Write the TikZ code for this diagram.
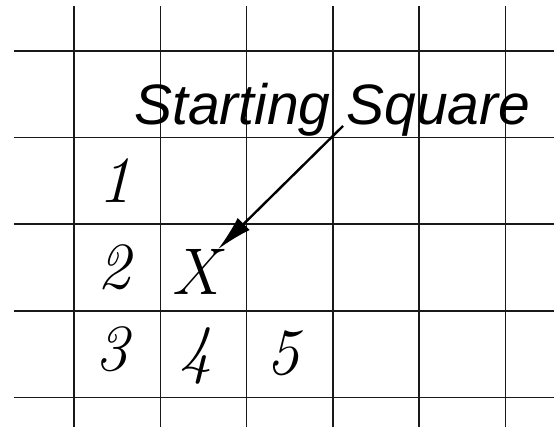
\documentclass[tikz,border=0pt]{standalone}
\usepackage{fontspec}
\setsansfont{Liberation Sans}
\usetikzlibrary{arrows.meta}
\begin{document}
\begin{tikzpicture}[x=1pt, y=1pt,
    gridline/.style={line width=1.6pt, black!90},
    digit/.style={font=\fontsize{66}{66}\selectfont\itshape, inner sep=0pt},
    pointer/.style={line width=2.4pt, -{Latex[length=36pt,width=17pt]}}]
  \useasboundingbox (0,0) rectangle (554,427);
  \foreach \col in {0,...,5}
    \draw[gridline] ({74+86.3*\col},0) -- ({74+86.3*\col},421);
  \foreach \row in {0,...,4}
    \draw[gridline] (14,{376-86.6*\row}) -- (554,{376-86.6*\row});

  \node[anchor=base west, inner sep=0pt, font=\fontsize{57}{60}\selectfont\sffamily\itshape] (label) at (134,302) {Starting Square};
  \foreach \num/\xpos/\ypos in {1/115/246, 2/114/160, 3/112/78, 4/196/71, 5/283/74}
    \node[digit] (num-\num) at (\xpos,\ypos) {\num};
  \node[digit] (xmark) at (195,155) {X};

  \coordinate (tail) at (343,301);
  \draw[pointer] (tail) -- (xmark);
\end{tikzpicture}
\end{document}
